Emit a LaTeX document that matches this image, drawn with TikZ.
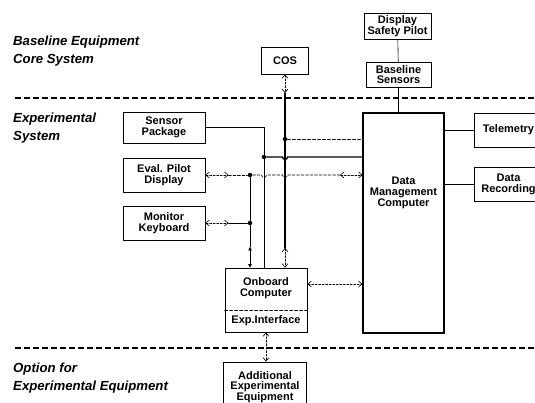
\documentclass[tikz,border=0pt]{standalone}
\usepackage{fontspec}
\setmainfont{Liberation Sans}
\usetikzlibrary{arrows.meta}

\begin{document}
\begin{tikzpicture}[x=1pt,y=-1pt,>={Straight Barb[length=3.5pt,width=6pt]},line cap=round,
  box/.style={draw,line width=.8pt,inner sep=0pt,align=center,font=\fontsize{11}{10.8}\selectfont\bfseries},
  txt/.style={inner sep=0pt,align=center,font=\fontsize{11}{10.8}\selectfont\bfseries},
  zone/.style={inner sep=0pt,align=left,anchor=north west,font=\fontsize{13.2}{17.5}\selectfont\bfseries\itshape},
  sep/.style={line width=1.4pt,dash pattern=on 6pt off 3pt,line cap=butt},
  link/.style={line width=.6pt},
  dlink/.style={link,dash pattern=on 2pt off 1.5pt,<->},
  tlink/.style={link,{Triangle[length=3.5pt,width=3.5pt]}-{Triangle[length=3.5pt,width=3.5pt]}},
  bus/.style={line width=1.3pt},
  dot/.style={circle,fill,inner sep=0pt,minimum size=4.5pt}]
\useasboundingbox (0,0) rectangle (535,403);
\node[zone] (lbase) at (13,36) {Baseline Equipment\\Core System};
\node[zone] (lexp) at (13,113) {Experimental\\System};
\node[zone] (lopt) at (13,363) {Option for\\Experimental Equipment};
\draw[sep] (15,98) -- (535,98);
\draw[sep] (15,348) -- (535,348);
\node[box,minimum width=47pt,minimum height=27pt] (cos) at (285,60.5) {COS};
\node[box,minimum width=67pt,minimum height=26pt] (dsp) at (397.5,26) {Display\\Safety Pilot};
\node[box,minimum width=65pt,minimum height=25pt] (bs) at (398.5,74.5) {Baseline\\Sensors};
\node[box,line width=1.1pt,minimum width=81pt,minimum height=220pt] (dmc) at (403.5,223) {};
\node[txt] (dmclbl) at (403.5,193) {Data\\Management\\Computer};
\node[box,minimum width=69pt,minimum height=34pt] (tel) at (508.5,130) {Telemetry};
\node[box,minimum width=69pt,minimum height=34pt] (rec) at (508.5,184) {Data\\Recording};
\node[box,minimum width=82pt,minimum height=31pt] (sens) at (164,127.5) {Sensor\\Package};
\node[box,minimum width=82pt,minimum height=34pt] (epd) at (164,175) {Eval. Pilot\\Display};
\node[box,minimum width=82pt,minimum height=34pt] (mkb) at (164,223) {Monitor\\Keyboard};
\node[box,minimum width=82pt,minimum height=64pt] (obc) at (266,300) {};
\node[txt] (obclbl) at (266,288) {Onboard\\Computer};
\node[txt] (expif) at (266,321) {Exp.Interface};
\draw[link,densely dashed] (obc.west |- 0,310) -- (obc.east |- 0,310);
\node[box,minimum width=83pt,minimum height=50pt,font=\fontsize{11}{10.3}\selectfont\bfseries] (addl) at (265,387) {Additional\\Experimental\\Equipment};
\node[dot] (j1) at (285,139) {};
\node[dot] (j2) at (264,157) {};
\node[dot] (j3) at (250,175) {};
\node[dot] (j4) at (250,223) {};
\coordinate (cosb) at (285,93);
\coordinate (obcb) at (285,248);
\coordinate (kb) at (250,247);
\coordinate (evm) at (340,175);
\draw[link] (dsp) -- (bs);
\draw[link] (bs.south) -- (bs.south |- dmc.north);
\draw[link] (tel.west -| dmc.east) -- (tel.west);
\draw[link] (rec.west -| dmc.east) -- (rec.west);
\draw[dlink] (cos.south) -- (cosb);
\draw[bus] (cosb) -- (obcb);
\draw[dlink] (obcb) -- (obcb |- obc.north);
\draw[link] (sens.east) -| (obc.north -| j2);
\draw[link,densely dashed] (j1) -- (j1 -| dmc.west);
\draw[bus] (j2) -- (282.5,157) arc[start angle=180,end angle=360,radius=2.5pt] -- (j2 -| dmc.west);
\draw[dlink] (epd.east) -- ++(23,0) coordinate (e1);
\draw[link,dash pattern=on 3pt off 1.5pt] (e1) -- (j3);
\draw[link,dash pattern=on 3pt off 1.5pt] (j3) -- (261.5,175) arc[start angle=180,end angle=360,radius=2.5pt]
  -- (282.5,175) arc[start angle=180,end angle=360,radius=2.5pt] -- (evm);
\draw[dlink] (evm) -- (evm -| dmc.west);
\draw[dlink] (mkb.east) -- ++(23,0) coordinate (m1);
\draw[link] (m1) -- (j4);
\draw[link] (j3) -- (j4) -- (kb);
\draw[tlink] (kb) -- (kb |- obc.north);
\draw[dlink] (obc.east |- 0,284) -- (dmc.west |- 0,284);
\draw[dlink] (obc.south) -- (obc.south |- addl.north);
\end{tikzpicture}
\end{document}
